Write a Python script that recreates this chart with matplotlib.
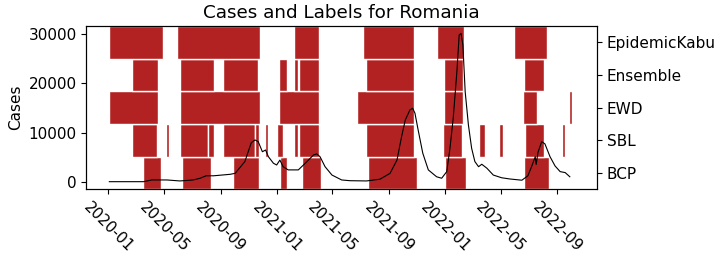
import matplotlib
matplotlib.use("Agg")
import matplotlib.pyplot as plt
import matplotlib.dates as mdates
import pandas as pd

plt.rcParams['font.size'] = 11

# Daily cases (smoothed)
case_dates = ["2020-01-03", "2020-03-17", "2020-04-04", "2020-05-07", "2020-06-04",
              "2020-07-03", "2020-07-18", "2020-07-31", "2020-08-16", "2020-09-21",
              "2020-10-02", "2020-10-23", "2020-11-06", "2020-11-14", "2020-11-21",
              "2020-11-30", "2020-12-07", "2020-12-13", "2020-12-24", "2020-12-31",
              "2021-01-07", "2021-01-14", "2021-01-25", "2021-02-16", "2021-03-03",
              "2021-03-21", "2021-03-28", "2021-04-04", "2021-04-15", "2021-04-30",
              "2021-05-21", "2021-06-08", "2021-07-14", "2021-08-12", "2021-09-03",
              "2021-09-18", "2021-09-28", "2021-10-06", "2021-10-16", "2021-10-22",
              "2021-10-27", "2021-11-03", "2021-11-13", "2021-11-25", "2021-12-13",
              "2021-12-24", "2022-01-04", "2022-01-11", "2022-01-18", "2022-01-26",
              "2022-01-31", "2022-02-04", "2022-02-08", "2022-02-13", "2022-02-20",
              "2022-02-27", "2022-03-06", "2022-03-14", "2022-03-21", "2022-04-01",
              "2022-04-15", "2022-05-03", "2022-05-21", "2022-06-16", "2022-06-29",
              "2022-07-07", "2022-07-15", "2022-07-17", "2022-07-21", "2022-07-29",
              "2022-08-05", "2022-08-16", "2022-08-27", "2022-09-07", "2022-09-18",
              "2022-09-28"]
cases = [0, 0, 350, 350, 150,
         350, 700, 1200, 1200, 1500,
         1700, 4100, 7950, 8500, 8150,
         6100, 6450, 5100, 3750, 3400,
         4400, 3050, 2400, 2400, 3750,
         5450, 5650, 5100, 3050, 1350,
         350, 200, 150, 500, 1700,
         4400, 9150, 12550, 14600, 14950,
         13950, 10500, 5800, 2400, 1000,
         700, 2050, 6800, 12900, 22400,
         29900, 30200, 27850, 18300, 11550,
         6800, 4100, 3050, 3550, 2750,
         1350, 800, 550, 300, 1200,
         3050, 5100, 3500, 6000, 8150,
         7700, 5100, 3200, 2050, 1850,
         1000]

# Labelled periods per method (start, end)
bcp = [("2020-03-16", "2020-04-24"), ("2020-06-09", "2020-08-11"), ("2020-09-28", "2020-11-22"),
       ("2021-01-07", "2021-01-22"), ("2021-02-25", "2021-04-06"), ("2021-07-17", "2021-11-01"),
       ("2021-12-31", "2022-02-15"), ("2022-06-21", "2022-08-13")]
sbl = [("2020-02-22", "2020-04-16"), ("2020-05-05", "2020-05-12"), ("2020-06-04", "2020-08-04"),
       ("2020-08-05", "2020-08-18"), ("2020-09-05", "2020-11-13"), ("2020-11-15", "2020-11-22"),
       ("2020-12-05", "2020-12-12"), ("2021-01-01", "2021-01-13"), ("2021-02-07", "2021-02-16"),
       ("2021-02-18", "2021-04-02"), ("2021-07-12", "2021-10-26"), ("2021-12-27", "2022-02-07"),
       ("2022-03-15", "2022-03-28"), ("2022-04-27", "2022-05-07"), ("2022-06-23", "2022-08-03"),
       ("2022-09-11", "2022-09-18")]
ewd = [("2020-01-03", "2020-04-18"), ("2020-06-04", "2020-11-25"), ("2021-01-05", "2021-04-02"),
       ("2021-06-23", "2021-10-26"), ("2021-12-28", "2022-02-09"), ("2022-06-18", "2022-07-18"),
       ("2022-09-27", "2022-10-03")]
ensemble = [("2020-02-22", "2020-04-18"), ("2020-06-04", "2020-08-17"), ("2020-09-05", "2020-11-21"),
            ("2021-01-05", "2021-01-22"), ("2021-02-07", "2021-02-16"), ("2021-02-18", "2021-04-02"),
            ("2021-07-12", "2021-10-26"), ("2021-12-28", "2022-02-09"), ("2022-06-21", "2022-08-03")]
epidemickabu = [("2020-01-03", "2020-04-29"), ("2020-05-28", "2020-11-25"), ("2021-02-07", "2021-04-02"),
                ("2021-07-06", "2021-10-25"), ("2021-12-13", "2022-02-10"), ("2022-05-30", "2022-08-10")]

methods = ["BCP", "SBL", "EWD", "Ensemble", "EpidemicKabu"]
periods = [bcp, sbl, ewd, ensemble, epidemickabu]

fig = plt.figure(figsize=(7.24, 2.58), dpi=100)
ax = fig.add_axes([0.1192, 0.2663, 0.7054, 0.6329])
ax2 = ax.twinx()

for i, segs in enumerate(periods):
    bars = []
    for s, e in segs:
        s0 = mdates.date2num(pd.Timestamp(s))
        e0 = mdates.date2num(pd.Timestamp(e))
        bars.append((s0, e0 - s0))
    ax2.broken_barh(bars, (i - 0.5, 1), facecolors='firebrick', edgecolor='white', linewidth=1)

ax2.set_ylim(-0.5, 4.5)
ax2.set_yticks(range(len(methods)))
ax2.set_yticklabels(methods)

ax.plot(pd.to_datetime(case_dates), cases, color='black', linewidth=0.8)
ax.set_zorder(ax2.get_zorder() + 1)
ax.patch.set_visible(False)

ax.set_ylim(-1550, 31700)
ax.set_yticks([0, 10000, 20000, 30000])
ax.set_ylabel("Cases")
ax.set_xlim(pd.Timestamp("2019-11-14"), pd.Timestamp("2022-11-26"))
ax.xaxis.set_major_locator(mdates.MonthLocator(bymonth=[1, 5, 9]))
ax.xaxis.set_major_formatter(mdates.DateFormatter('%Y-%m'))
plt.setp(ax.get_xticklabels(), rotation=-45)
ax.set_title("Cases and Labels for Romania")

fig.savefig("out.png", dpi=100)
